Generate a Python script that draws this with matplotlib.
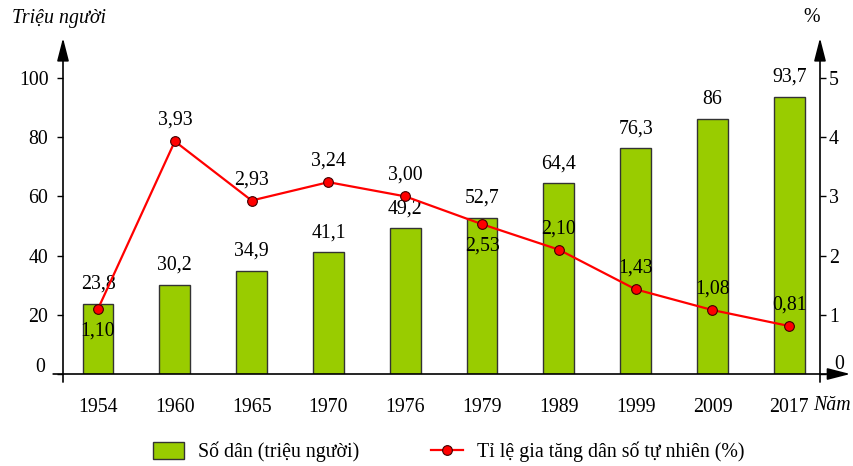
import matplotlib
matplotlib.use("Agg")
import matplotlib.pyplot as plt
import numpy as np

plt.rcParams['font.family'] = ['Liberation Serif', 'DejaVu Serif']

years = ['1954', '1960', '1965', '1970', '1976', '1979', '1989', '1999', '2009', '2017']
population = [23.8, 30.2, 34.9, 41.1, 49.2, 52.7, 64.4, 76.3, 86, 93.7]
growth_rate = [1.10, 3.93, 2.93, 3.24, 3.00, 2.53, 2.10, 1.43, 1.08, 0.81]
rate_below = ['1954', '1979']  # labels drawn under the point
left_ticks = [0, 20, 40, 60, 80, 100]
right_ticks = [0, 1, 2, 3, 4, 5]

bar_green = '#99cc00'
line_red = '#ff0000'
fs = 14.3

fig = plt.figure(figsize=(8.54, 4.66), dpi=100)
ax = fig.add_axes([63/854, 1-374/466, (820-63)/854, (374-38)/466])
ax2 = ax.twinx()

x = np.arange(len(years))
ax.bar(x, population, width=0.4, color=bar_green, edgecolor='#333333', linewidth=1.0,
       label='Số dân (triệu người)', zorder=2)
for xi, v in zip(x, population):
    ax.annotate(f"{v:g}".replace('.', ','), (xi, v), xytext=(0, 14), textcoords='offset points',
                ha='center', va='center', fontsize=fs)

ax2.plot(x, growth_rate, color=line_red, lw=1.6, marker='o', markersize=7,
         markerfacecolor=line_red, markeredgecolor='#400000', markeredgewidth=0.8,
         label='Tỉ lệ gia tăng dân số tự nhiên (%)', zorder=3)
for xi, yr, v in zip(x, years, growth_rate):
    dy = -16 if yr in rate_below else 15
    ax2.annotate(f"{v:.2f}".replace('.', ','), (xi, v), xytext=(0, dy), textcoords='offset points',
                 ha='center', va='center', fontsize=fs)

ax.set_xlim(-0.456, 9.40)
ax.set_ylim(0, 113.5)
ax2.set_ylim(0, 5.675)
ax.set_yticks(left_ticks)
ax.set_yticklabels([''] + [str(t) for t in left_ticks[1:]])
ax2.set_yticks(right_ticks)
ax2.set_yticklabels([''] + [str(t) for t in right_ticks[1:]])
ax.set_xticks(x)
ax.set_xticklabels(years)

# the zero labels sit a little above the x axis, clear of the arrows
ax.annotate('0', (0, 0), xycoords='axes fraction', xytext=(-13, 5), textcoords='offset points',
            ha='right', va='center', fontsize=fs)
ax.annotate('0', (1, 0), xycoords='axes fraction', xytext=(10, 7), textcoords='offset points',
            ha='left', va='center', fontsize=fs)

for a in (ax, ax2):
    for s in a.spines.values():
        s.set_visible(False)
ax.tick_params(axis='x', length=0, pad=17, labelsize=fs)
ax.tick_params(axis='y', length=4.5, width=1, pad=6, labelsize=fs)
ax2.tick_params(axis='y', length=4.5, width=1, pad=2, labelsize=fs)

arrow = dict(arrowstyle='-|>,head_length=0.7,head_width=0.18', color='black', lw=1.2,
             shrinkA=0, shrinkB=0, mutation_scale=20)
ax.annotate('', xy=(0, 1), xytext=(0, -0.024), xycoords='axes fraction', arrowprops=arrow)
ax.annotate('', xy=(1, 1), xytext=(1, -0.024), xycoords='axes fraction', arrowprops=arrow)
ax.annotate('', xy=(1.04, 0), xytext=(-0.013, 0), xycoords='axes fraction', arrowprops=arrow)

fig.text(12/854, 1-18/466, 'Triệu người', fontsize=fs, style='italic', ha='left', va='center')
fig.text(812/854, 1-18/466, '%', fontsize=fs, ha='center', va='center')
fig.text(813/854, 1-405/466, 'Năm', fontsize=fs, style='italic', ha='left', va='center')

h1, l1 = ax.get_legend_handles_labels()
h2, l2 = ax2.get_legend_handles_labels()
fig.legend(h1 + h2, l1 + l2, loc='center', bbox_to_anchor=(0.525, 1-452/466), ncol=2,
           frameon=False, fontsize=fs, handlelength=1.6, handleheight=1.0, columnspacing=3.6,
           handletextpad=0.7)

fig.savefig('out.png', dpi=100)
